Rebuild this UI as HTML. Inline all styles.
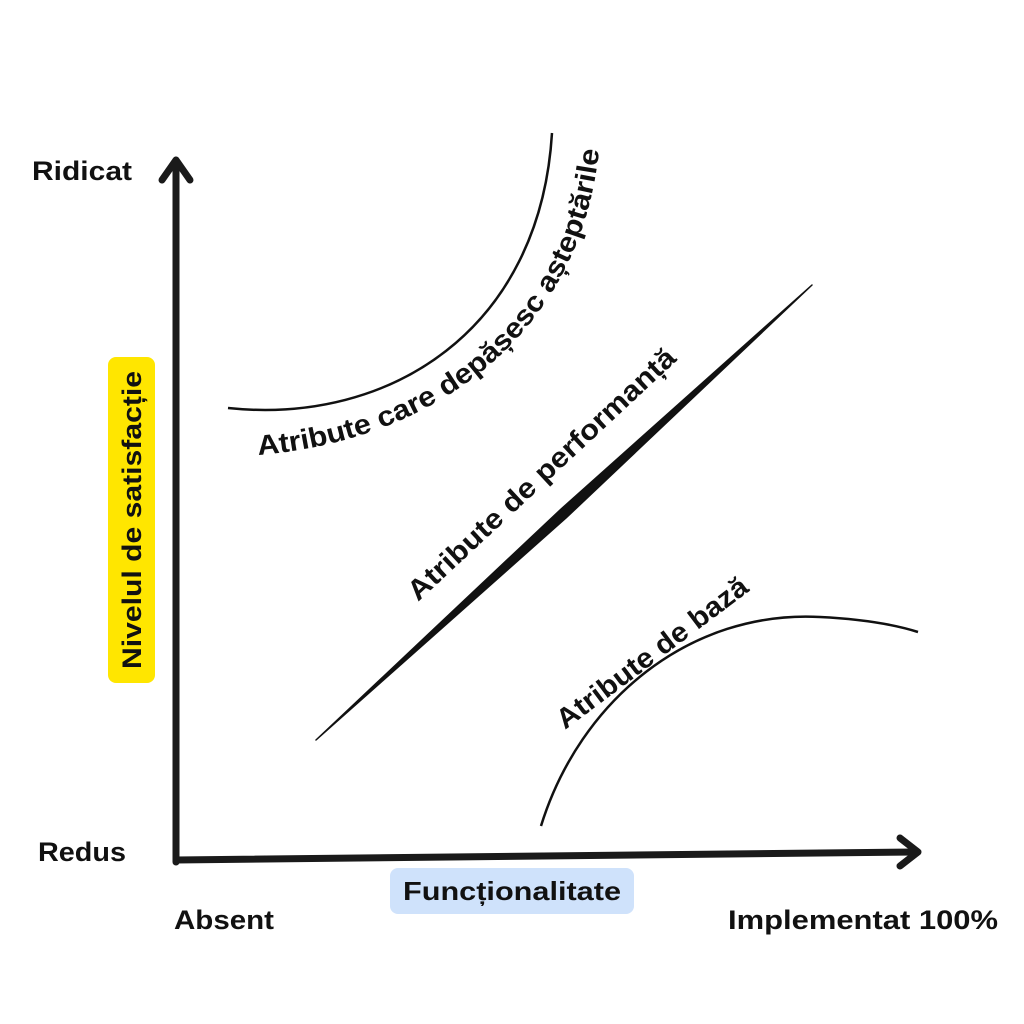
<!DOCTYPE html>
<html><head><meta charset="utf-8"><style>
html,body{margin:0;padding:0;background:#fff;}
svg{display:block;}
text{font-family:"Liberation Sans",sans-serif;font-weight:bold;fill:#111;}
</style></head><body>
<svg width="1024" height="1024" viewBox="0 0 1024 1024" xmlns="http://www.w3.org/2000/svg">
<rect width="1024" height="1024" fill="#fff"/>
<path d="M176,862 L176,162" stroke="#1a1a1a" stroke-width="7" fill="none" stroke-linecap="round"/>
<path d="M162,180 L176,160 L190,180" stroke="#1a1a1a" stroke-width="7" fill="none" stroke-linecap="round" stroke-linejoin="round"/>
<path d="M176,860 L916,852" stroke="#1a1a1a" stroke-width="7" fill="none" stroke-linecap="round"/>
<path d="M900,838 L918,852 L900,866" stroke="#1a1a1a" stroke-width="7" fill="none" stroke-linecap="round" stroke-linejoin="round"/>
<path d="M228,408 C 390,425 540,330 552,133" stroke="#111" stroke-width="2.5" fill="none"/>
<polygon points="316,740 560,510 812,285 566,518" fill="#111" stroke="#111" stroke-width="1.5" stroke-linejoin="round"/>
<path d="M541,826 C 580,700 690,610 820,617 Q 880,620 918,632" stroke="#111" stroke-width="2.5" fill="none"/>
<text x="32" y="180" font-size="27" textLength="100" lengthAdjust="spacingAndGlyphs">Ridicat</text>
<text x="38" y="861" font-size="27" textLength="88" lengthAdjust="spacingAndGlyphs">Redus</text>
<text x="174" y="929" font-size="27" textLength="100" lengthAdjust="spacingAndGlyphs">Absent</text>
<text x="728" y="929" font-size="27" textLength="270" lengthAdjust="spacingAndGlyphs">Implementat 100%</text>
<rect x="390" y="868" width="244" height="46" rx="8" fill="#cfe2fb"/>
<text x="512" y="900" font-size="26" text-anchor="middle" textLength="218" lengthAdjust="spacingAndGlyphs">Funcționalitate</text>
<rect x="108" y="357" width="47" height="326" rx="8" fill="#ffe600"/>
<text transform="translate(141,520) rotate(-90)" font-size="27" text-anchor="middle" textLength="298" lengthAdjust="spacingAndGlyphs">Nivelul de satisfacție</text>
<path id="cp" d="M258,455 C 440,440 585,330 600,140" fill="none"/>
<text font-size="28"><textPath href="#cp" textLength="500" lengthAdjust="spacingAndGlyphs">Atribute care depășesc așteptările</textPath></text>
<text transform="translate(418,602) rotate(-43)" font-size="28" textLength="355" lengthAdjust="spacingAndGlyphs">Atribute de performanță</text>
<text transform="translate(565,730) rotate(-37)" font-size="28" textLength="232" lengthAdjust="spacingAndGlyphs">Atribute de bază</text>
</svg>
</body></html>
